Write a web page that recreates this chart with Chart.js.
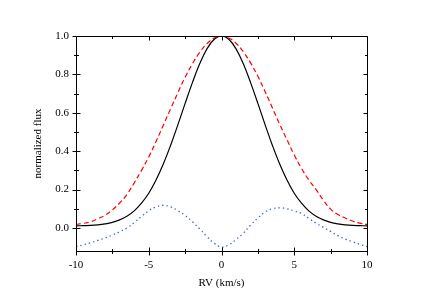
<!DOCTYPE html>
<html>
<head>
<meta charset="utf-8">
<script src="https://cdn.jsdelivr.net/npm/chart.js@4/dist/chart.umd.min.js"></script>
<style>
  html, body { margin: 0; padding: 0; background: #fff; }
  #wrap { width: 427px; height: 302px; position: relative; }
</style>
</head>
<body>
<div id="wrap"><canvas id="c" width="427" height="302"></canvas></div>
<script>
// RV grid (km/s)
const rv = [-10,-9.5,-9,-8.5,-8,-7.5,-7,-6.5,-6,-5.5,-5,-4.5,-4,-3.5,-3,-2.5,-2,-1.5,-1,-0.5,0,
            0.5,1,1.5,2,2.5,3,3.5,4,4.5,5,5.5,6,6.5,7,7.5,8,8.5,9,9.5,10];
// black solid profile
const solidFlux = [0.011,0.012,0.013,0.016,0.021,0.029,0.042,0.061,0.089,0.129,0.181,0.250,0.333,0.430,0.537,0.649,0.757,0.855,0.933,0.983,1.000,
                   0.983,0.933,0.855,0.757,0.649,0.537,0.430,0.333,0.250,0.181,0.129,0.089,0.061,0.042,0.029,0.021,0.016,0.013,0.012,0.011];
// red dashed profile
const dashedFlux = [0.018,0.024,0.032,0.048,0.066,0.094,0.130,0.175,0.235,0.300,0.370,0.450,0.535,0.620,0.705,0.785,0.855,0.915,0.960,0.990,1.000,
                    0.990,0.962,0.918,0.860,0.790,0.710,0.625,0.540,0.460,0.380,0.310,0.250,0.200,0.145,0.098,0.070,0.052,0.036,0.025,0.018];
// blue dotted profile
const dottedFlux = [-0.097,-0.088,-0.077,-0.065,-0.052,-0.037,-0.020,0.000,0.028,0.060,0.090,0.110,0.118,0.110,0.090,0.065,0.032,-0.005,-0.045,-0.080,-0.100,
                    -0.088,-0.060,-0.027,0.015,0.052,0.083,0.100,0.105,0.100,0.088,0.075,0.050,0.025,0.003,-0.018,-0.040,-0.058,-0.072,-0.085,-0.097];
const xMajorTicks = [-10,-5,0,5,10];
const xMinorTicks = [-7.5,-2.5,2.5,7.5];
const yMajorTicks = [0,0.2,0.4,0.6,0.8,1.0];
const yMinorTicks = [0.1,0.3,0.5,0.7,0.9];

const pts = arr => rv.map((x, i) => ({x: x, y: arr[i]}));

const frameTicks = {
  id: 'frameTicks',
  afterDraw(chart) {
    const ctx = chart.ctx, xs = chart.scales.x, ys = chart.scales.y;
    const a = chart.chartArea;
    const L = Math.round(a.left) + 0.5, R = Math.round(a.right) + 0.5;
    const T = Math.round(a.top) + 0.5, B = Math.round(a.bottom) + 0.5;
    ctx.save();
    ctx.strokeStyle = '#000';
    ctx.lineWidth = 1;
    ctx.beginPath();
    ctx.rect(L, T, R - L, B - T);
    ctx.stroke();
    ctx.beginPath();
    const xt = (v, len, cross) => {
      const p = Math.round(xs.getPixelForValue(v)) + 0.5;
      ctx.moveTo(p, B - len); ctx.lineTo(p, B + (cross ? len : 0));
      ctx.moveTo(p, T); ctx.lineTo(p, T + len);
    };
    const yt = (v, len) => {
      const p = Math.round(ys.getPixelForValue(v)) + 0.5;
      ctx.moveTo(L - len, p); ctx.lineTo(L + len, p);
      ctx.moveTo(R, p); ctx.lineTo(R - len, p);
    };
    xMajorTicks.forEach(v => xt(v, 4, true));
    xMinorTicks.forEach(v => xt(v, 2.5, true));
    yMajorTicks.forEach(v => yt(v, 4));
    yMinorTicks.forEach(v => yt(v, 2.5));
    ctx.stroke();
    ctx.restore();
  }
};

const serif = "'Liberation Serif', 'DejaVu Serif', serif";

new Chart(document.getElementById('c'), {
  type: 'line',
  data: {
    datasets: [
      { data: pts(dashedFlux), borderColor: '#ff0000', borderWidth: 1.2, borderDash: [5, 3], pointRadius: 0, tension: 0.4, fill: false },
      { data: pts(solidFlux), borderColor: '#000000', borderWidth: 1.2, pointRadius: 0, tension: 0.4, fill: false },
      { data: pts(dottedFlux), borderColor: '#3f5fff', borderWidth: 1.3, borderDash: [1.4, 3], pointRadius: 0, tension: 0.4, fill: false }
    ]
  },
  options: {
    responsive: false,
    animation: false,
    events: [],
    layout: { padding: { left: 0, top: 36, right: 60, bottom: 0 } },
    plugins: { legend: { display: false }, tooltip: { enabled: false } },
    scales: {
      x: {
        type: 'linear', min: -10, max: 10,
        grid: { display: false, drawTicks: false },
        border: { display: false },
        afterBuildTicks: s => { s.ticks = xMajorTicks.map(v => ({value: v})); },
        afterFit: s => { s.height = 51; },
        ticks: { padding: 8, color: '#000', font: { family: serif, size: 11 }, maxRotation: 0,
                 callback: v => String(v) },
        title: { display: true, text: 'RV (km/s)', color: '#000', font: { family: serif, size: 11 }, padding: 12 }
      },
      y: {
        type: 'linear', min: -0.12, max: 1.0,
        grid: { display: false, drawTicks: false },
        border: { display: false },
        afterBuildTicks: s => { s.ticks = yMajorTicks.map(v => ({value: v})); },
        afterFit: s => { s.width = 76; },
        ticks: { padding: 7, color: '#000', font: { family: serif, size: 11 },
                 callback: v => Number(v).toFixed(1) },
        title: { display: true, text: 'normalized flux', color: '#000', font: { family: serif, size: 11 }, padding: 32 }
      }
    }
  },
  plugins: [frameTicks]
});
</script>
</body>
</html>
